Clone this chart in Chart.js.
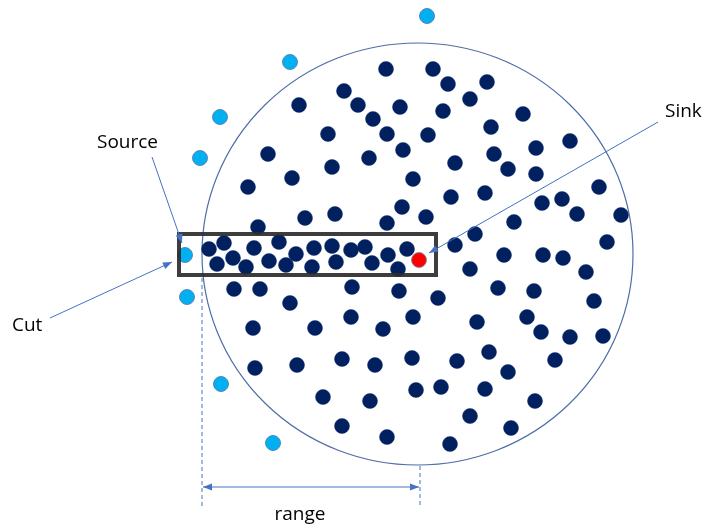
<!DOCTYPE html>
<html>
<head>
<meta charset="utf-8">
<script src="https://cdn.jsdelivr.net/npm/chart.js@4/dist/chart.umd.min.js"></script>
<style>
  html, body { margin: 0; padding: 0; background: #fff; overflow: hidden; }
  #wrap { width: 708px; height: 529px; }
</style>
</head>
<body>
<div id="wrap"><canvas id="graphChart"></canvas></div>
<script>
// node positions (diagram units)
const nodeX = [386, 433, 448, 487, 344, 470, 299, 358, 400, 443, 523, 373, 491, 328, 387, 428, 570, 536, 403, 268,
  494, 369, 455, 332, 508, 536, 292, 413, 248, 599, 485, 451, 562, 542, 402, 335, 577, 621, 305, 426,
  514, 387, 258, 475, 607, 455, 504, 543, 563,
  209, 224, 217, 233, 254, 246, 279, 269, 286, 296, 314, 312, 332, 336, 351, 365, 372, 388, 407, 398,
  470, 586, 498, 534, 438, 594, 527, 477, 541, 570, 603, 489, 457, 555, 508,
  234, 260, 290, 352, 399, 351, 413, 253, 315, 383, 342, 412, 255, 297, 375, 416, 441, 485, 323, 370,
  535, 470, 342, 511, 387, 450];
const nodeY = [69, 69, 84, 82, 91, 99, 105, 105, 107, 111, 114, 119, 127, 134, 134, 135, 141, 148, 150, 154,
  154, 158, 163, 167, 169, 174, 178, 179, 187, 187, 193, 197, 199, 203, 207, 214, 214, 215, 218, 217,
  222, 223, 227, 234, 242, 245, 255, 255, 258,
  249, 243, 264, 258, 248, 267, 242, 261, 265, 254, 248, 267, 246, 262, 250, 247, 263, 255, 249, 269,
  269, 272, 288, 291, 298, 301, 317, 322, 332, 337, 336, 352, 361, 360, 372,
  289, 289, 303, 287, 291, 317, 317, 328, 328, 329, 359, 358, 368, 365, 365, 390, 387, 389, 397, 401,
  401, 416, 426, 428, 437, 444];
// nodes outside the range
const outerX = [427, 290, 220, 200, 185, 187, 221, 273];
const outerY = [16, 62, 117, 158, 255, 297, 384, 443];
// sink node
const sinkX = [419];
const sinkY = [260];

function toPoints(xs, ys) {
  return xs.map(function (x, i) { return { x: x, y: ys[i] }; });
}

const diagramPlugin = {
  id: "diagram",
  beforeDatasetsDraw: function (chart) {
    const ctx = chart.ctx;
    const sx = chart.scales.x, sy = chart.scales.y;
    const cx = sx.getPixelForValue(417.5), cy = sy.getPixelForValue(254);
    const rx = sx.getPixelForValue(417.5 + 215.5) - cx;
    const ry = sy.getPixelForValue(254 + 211) - cy;
    ctx.save();
    ctx.strokeStyle = "#4f6ea8";
    ctx.lineWidth = 1.2;
    ctx.beginPath();
    ctx.ellipse(cx, cy, Math.abs(rx), Math.abs(ry), 0, 0, Math.PI * 2);
    ctx.stroke();
    ctx.restore();
  },
  afterDatasetsDraw: function (chart) {
    const ctx = chart.ctx;
    const sx = chart.scales.x, sy = chart.scales.y;
    const px = function (v) { return sx.getPixelForValue(v); };
    const py = function (v) { return sy.getPixelForValue(v); };

    function arrow(x1, y1, x2, y2, both) {
      const a = Math.atan2(py(y2) - py(y1), px(x2) - px(x1));
      ctx.beginPath();
      ctx.moveTo(px(x1), py(y1));
      ctx.lineTo(px(x2), py(y2));
      ctx.stroke();
      head(px(x2), py(y2), a);
      if (both) head(px(x1), py(y1), a + Math.PI);
    }
    function head(x, y, a) {
      const len = 9, w = 3.5;
      ctx.beginPath();
      ctx.moveTo(x, y);
      ctx.lineTo(x - len * Math.cos(a) + w * Math.sin(a), y - len * Math.sin(a) - w * Math.cos(a));
      ctx.lineTo(x - len * Math.cos(a) - w * Math.sin(a), y - len * Math.sin(a) + w * Math.cos(a));
      ctx.closePath();
      ctx.fill();
    }

    ctx.save();
    // cut box
    ctx.strokeStyle = "rgba(45,45,45,0.92)";
    ctx.lineWidth = 4;
    ctx.strokeRect(px(179), py(234), px(436) - px(179), py(275) - py(234));

    // arrows
    ctx.strokeStyle = "#4472c4";
    ctx.fillStyle = "#4472c4";
    ctx.lineWidth = 1;
    arrow(152, 157, 182, 243);
    arrow(50, 318, 172, 262);
    arrow(658, 122, 429, 253);

    // range dashes
    ctx.setLineDash([4, 3]);
    ctx.beginPath();
    ctx.moveTo(px(202), py(278));
    ctx.lineTo(px(202), py(507));
    ctx.moveTo(px(420), py(466));
    ctx.lineTo(px(420), py(507));
    ctx.stroke();
    ctx.setLineDash([]);
    arrow(203, 487, 419, 487, true);

    // labels
    ctx.fillStyle = "#000";
    ctx.font = "19px 'Open Sans', 'Liberation Sans', sans-serif";
    ctx.textBaseline = "middle";
    ctx.textAlign = "left";
    ctx.fillText("Source", px(97), py(143));
    ctx.fillText("Cut", px(12), py(326));
    ctx.fillText("Sink", px(665), py(112));
    ctx.textAlign = "center";
    ctx.fillText("range", px(300), py(515));
    ctx.restore();
  },
};

new Chart(document.getElementById("graphChart"), {
  type: "scatter",
  data: {
    datasets: [
      {
        label: "Nodes",
        data: toPoints(nodeX, nodeY),
        backgroundColor: "#002060",
        borderColor: "#0c2a66",
        borderWidth: 0.5,
        pointRadius: 7.5,
      },
      {
        label: "Outside",
        data: toPoints(outerX, outerY),
        backgroundColor: "#00b0f0",
        borderColor: "#5a86b8",
        borderWidth: 1,
        pointRadius: 7.5,
      },
      {
        label: "Sink",
        data: toPoints(sinkX, sinkY),
        backgroundColor: "#ff0000",
        borderColor: "#8a8aa8",
        borderWidth: 1,
        pointRadius: 7.5,
      },
    ],
  },
  options: {
    responsive: true,
    maintainAspectRatio: false,
    animation: false,
    layout: { padding: 0, autoPadding: false },
    scales: {
      x: { type: "linear", min: 0, max: 708, display: false },
      y: { type: "linear", min: 0, max: 529, reverse: true, display: false },
    },
    plugins: {
      legend: { display: false },
      tooltip: { enabled: false },
    },
    clip: false,
  },
  plugins: [diagramPlugin],
});
</script>
</body>
</html>
